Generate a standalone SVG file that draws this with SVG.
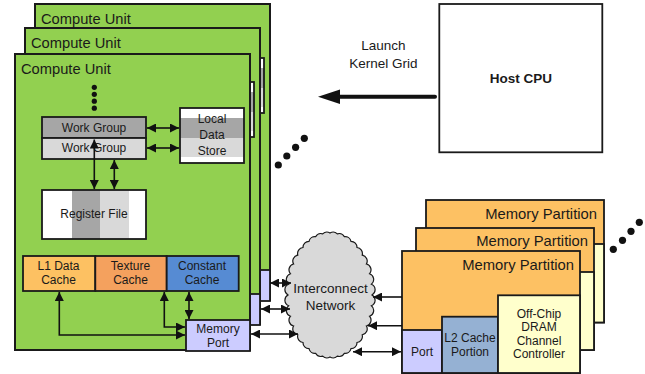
<svg xmlns="http://www.w3.org/2000/svg" width="645" height="374" viewBox="0 0 645 374">
<defs>
<style>
text{font-family:"Liberation Sans",Arial,sans-serif;fill:#1a1a1a}
.t{font-size:12px;text-anchor:middle}
.title{font-size:14.7px}
.mp{font-size:14.8px;text-anchor:end}
.box{stroke:#1a1a1a;stroke-width:1.8}
.band{stroke:none}
.cu{fill:#92d050;stroke:#1a1a1a;stroke-width:2}
.port{fill:#ccccff;stroke:#1a1a1a;stroke-width:1.8}
.mpbg{fill:#fdc163;stroke:#1a1a1a;stroke-width:1.8}
.dram{fill:#ffffcc;stroke:#1a1a1a;stroke-width:1.8}
.l2{fill:#95b1d3;stroke:#1a1a1a;stroke-width:1.8}
.c{fill:none;stroke:#111;stroke-width:1.6}
.dd{marker-start:url(#ah);marker-end:url(#ah)}
.se{marker-end:url(#ah)}
.dot{fill:#111}
</style>
<marker id="ah" markerUnits="userSpaceOnUse" markerWidth="9" markerHeight="9" refX="8" refY="4" orient="auto-start-reverse" viewBox="0 0 8 8">
<path d="M0,0 L8,4 L0,8 z" fill="#111"/>
</marker>
</defs>

<g id="cu2">
<rect class="cu" x="35" y="4" width="235" height="296"/>
<text class="title" x="41" y="24">Compute Unit</text>
<rect class="band" x="200" y="58" width="64" height="10" fill="#fff"/>
<rect class="band" x="200" y="68" width="64" height="20" fill="#a6a6a6"/>
<rect class="band" x="200" y="88" width="64" height="19" fill="#d9d9d9"/>
<rect class="band" x="200" y="107" width="64" height="6" fill="#fff"/>
<rect x="200" y="58" width="64" height="55" fill="none" stroke="#1a1a1a" stroke-width="1.8"/>
<rect class="port" x="206" y="270" width="64" height="31"/>
</g>

<g id="cu1">
<rect class="cu" x="25" y="28" width="235" height="296"/>
<text class="title" x="31" y="48">Compute Unit</text>
<rect class="band" x="190" y="82" width="64" height="10" fill="#fff"/>
<rect class="band" x="190" y="92" width="64" height="20" fill="#a6a6a6"/>
<rect class="band" x="190" y="112" width="64" height="19" fill="#d9d9d9"/>
<rect class="band" x="190" y="131" width="64" height="6" fill="#fff"/>
<rect x="190" y="82" width="64" height="55" fill="none" stroke="#1a1a1a" stroke-width="1.8"/>
<rect class="port" x="196" y="294" width="64" height="31"/>
</g>

<g id="cu0">
<rect class="cu" x="15" y="54" width="235" height="296"/>
<text class="title" x="21" y="74">Compute Unit</text>
<g id="cu0-dots">
<circle class="dot" cx="94.3" cy="87.3" r="2.6"/>
<circle class="dot" cx="94.3" cy="94.3" r="2.6"/>
<circle class="dot" cx="94.3" cy="101.2" r="2.6"/>
<circle class="dot" cx="94.3" cy="108.2" r="2.6"/>
</g>
<g id="wg1">
<rect class="box" x="42" y="117" width="104" height="21" fill="#a6a6a6"/>
<text class="t" x="94" y="132">Work Group</text>
</g>
<g id="wg2">
<rect class="box" x="42" y="138" width="104" height="21" fill="#d9d9d9"/>
<text class="t" x="94" y="152">Work Group</text>
</g>
<g id="lds">
<rect class="band" x="180" y="108" width="64" height="10" fill="#fff"/>
<rect class="band" x="180" y="118" width="64" height="20" fill="#a6a6a6"/>
<rect class="band" x="180" y="138" width="64" height="19" fill="#d9d9d9"/>
<rect class="band" x="180" y="157" width="64" height="6" fill="#fff"/>
<rect x="180" y="108" width="64" height="55" fill="none" stroke="#1a1a1a" stroke-width="1.8"/>
<text class="t" x="212" y="123">Local</text>
<text class="t" x="212" y="139">Data</text>
<text class="t" x="212" y="155">Store</text>
</g>
<g id="regfile">
<rect class="band" x="42" y="190" width="104" height="49" fill="#fff"/>
<rect class="band" x="72" y="190" width="28" height="49" fill="#a6a6a6"/>
<rect class="band" x="100" y="190" width="29" height="49" fill="#d9d9d9"/>
<rect x="42" y="190" width="104" height="49" fill="none" stroke="#1a1a1a" stroke-width="1.8"/>
<text class="t" x="94" y="218">Register File</text>
</g>
<g id="l1">
<rect class="box" x="23" y="256" width="72.3" height="35" fill="#fdc162"/>
<text class="t" x="58.5" y="269.5">L1 Data</text>
<text class="t" x="58.5" y="283.5">Cache</text>
</g>
<g id="tex">
<rect class="box" x="95.3" y="256" width="71.4" height="35" fill="#f4a15e"/>
<text class="t" x="130.5" y="269.5">Texture</text>
<text class="t" x="130.5" y="283.5">Cache</text>
</g>
<g id="const">
<rect class="box" x="166.7" y="256" width="72" height="35" fill="#568bd3"/>
<text class="t" x="202" y="269.5">Constant</text>
<text class="t" x="202" y="283.5">Cache</text>
</g>
<g id="memport">
<rect class="port" x="186" y="320" width="64" height="31"/>
<text class="t" x="218" y="333">Memory</text>
<text class="t" x="218" y="346.5">Port</text>
</g>
</g>

<g id="cu-more">
<circle class="dot" cx="278.3" cy="165" r="3.6"/>
<circle class="dot" cx="286.8" cy="156" r="3.6"/>
<circle class="dot" cx="295.6" cy="147.3" r="3.6"/>
<circle class="dot" cx="304.3" cy="138.3" r="3.6"/>
</g>

<g id="host">
<rect x="439.3" y="4" width="163" height="148.3" fill="#fff" stroke="#1a1a1a" stroke-width="1.8"/>
<text x="520.8" y="83" font-size="13.5" font-weight="bold" text-anchor="middle">Host CPU</text>
</g>

<g id="interconnect">
<path fill="#d9d9d9" stroke="#1a1a1a" stroke-width="1.2" d="M372,295 A6,6 0 0 1 371.4,305.8 A6,6 0 0 1 369.5,316.2 A6,6 0 0 1 366.4,326 A6,6 0 0 1 362.2,334.9 A6,6 0 0 1 357,342.5 A6,6 0 0 1 351,348.7 A6,6 0 0 1 344.4,353.3 A6,6 0 0 1 337.3,356.1 A6,6 0 0 1 330,357 A6,6 0 0 1 322.7,356.1 A6,6 0 0 1 315.6,353.3 A6,6 0 0 1 309,348.7 A6,6 0 0 1 303,342.5 A6,6 0 0 1 297.8,334.9 A6,6 0 0 1 293.6,326 A6,6 0 0 1 290.5,316.2 A6,6 0 0 1 288.6,305.8 A6,6 0 0 1 288,295 A6,6 0 0 1 288.6,284.2 A6,6 0 0 1 290.5,273.8 A6,6 0 0 1 293.6,264 A6,6 0 0 1 297.8,255.1 A6,6 0 0 1 303,247.5 A6,6 0 0 1 309,241.3 A6,6 0 0 1 315.6,236.7 A6,6 0 0 1 322.7,233.9 A6,6 0 0 1 330,233 A6,6 0 0 1 337.3,233.9 A6,6 0 0 1 344.4,236.7 A6,6 0 0 1 351,241.3 A6,6 0 0 1 357,247.5 A6,6 0 0 1 362.2,255.1 A6,6 0 0 1 366.4,264 A6,6 0 0 1 369.5,273.8 A6,6 0 0 1 371.4,284.2 A6,6 0 0 1 372,295 Z"/>
<text x="330.5" y="293" font-size="13.5" text-anchor="middle">Interconnect</text>
<text x="330.5" y="309.5" font-size="13.5" text-anchor="middle">Network</text>
</g>

<g id="mp2">
<rect class="mpbg" x="426" y="200" width="178" height="122.5"/>
<rect class="dram" x="522" y="244" width="82" height="78.5"/>
<text class="mp" x="597" y="218.5">Memory Partition</text>
</g>
<g id="mp1">
<rect class="mpbg" x="416" y="228" width="178" height="122"/>
<rect class="dram" x="512" y="272" width="82" height="78"/>
<text class="mp" x="588" y="246">Memory Partition</text>
</g>
<g id="mp0">
<rect class="mpbg" x="402" y="251" width="178" height="122"/>
<text class="mp" x="574" y="270">Memory Partition</text>
<g id="mp0-port">
<rect class="port" x="402" y="330" width="40" height="43"/>
<text class="t" x="422" y="355.5">Port</text>
</g>
<g id="mp0-l2">
<rect class="l2" x="442" y="316.7" width="56" height="56.3"/>
<text class="t" x="470" y="342">L2 Cache</text>
<text class="t" x="470" y="355.5">Portion</text>
</g>
<g id="mp0-dram">
<rect class="dram" x="498" y="295.3" width="82" height="77.7"/>
<text class="t" x="539" y="317.5">Off-Chip</text>
<text class="t" x="539" y="331">DRAM</text>
<text class="t" x="539" y="344.5">Channel</text>
<text class="t" x="539" y="357.5">Controller</text>
</g>
</g>

<g id="mp-more">
<circle class="dot" cx="613.3" cy="249.3" r="3.6"/>
<circle class="dot" cx="622.5" cy="240.3" r="3.6"/>
<circle class="dot" cx="631" cy="231.3" r="3.6"/>
<circle class="dot" cx="639.3" cy="222.3" r="3.6"/>
</g>

<g id="launch-label">
<text x="383.3" y="50" font-size="13.5" text-anchor="middle">Launch</text>
<text x="383.3" y="68.3" font-size="13.5" text-anchor="middle">Kernel Grid</text>
</g>

<g id="connectors">
<line class="c dd" x1="147" y1="128" x2="179" y2="128"/>
<line class="c dd" x1="147" y1="148" x2="179" y2="148"/>
<line class="c dd" x1="94.3" y1="139.5" x2="94.3" y2="189"/>
<line class="c dd" x1="114.3" y1="160" x2="114.3" y2="189"/>
<path class="c dd" d="M59.3,292 V335 H185"/>
<path class="c dd" d="M164.3,292 V327 H185"/>
<line class="c dd" x1="189" y1="292" x2="189" y2="319"/>
<line class="c dd" x1="270" y1="283" x2="291" y2="283"/>
<line class="c dd" x1="261" y1="309" x2="290" y2="309"/>
<line class="c dd" x1="251" y1="334" x2="298" y2="334"/>
<line class="c se" x1="402" y1="297" x2="373" y2="297"/>
<line class="c se" x1="402" y1="325.7" x2="368" y2="325.7"/>
<line class="c dd" x1="353" y1="351.7" x2="401" y2="351.7"/>
<line x1="435" y1="96.7" x2="336" y2="96.7" stroke="#111" stroke-width="4" stroke-linecap="round"/>
<polygon points="318,96.7 340,89.5 340,104" fill="#111"/>
</g>
</svg>
